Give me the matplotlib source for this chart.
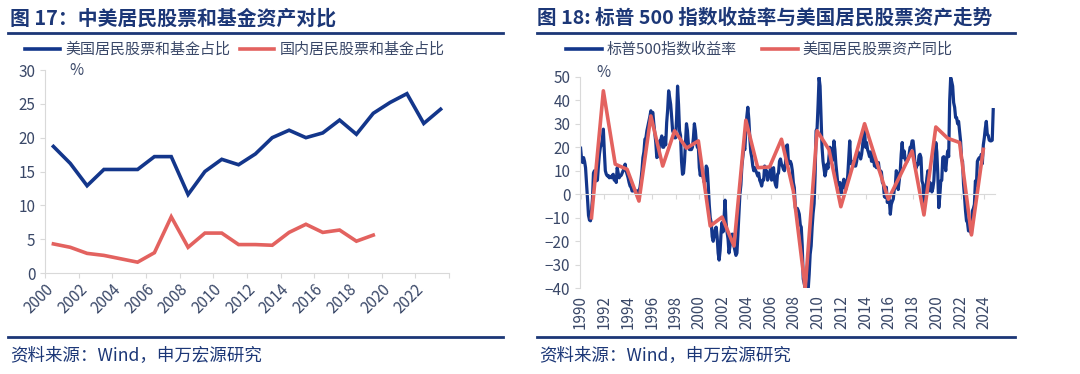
import matplotlib.pyplot as plt
from matplotlib.lines import Line2D
import numpy as np

plt.rcParams['font.family'] = ['Noto Sans CJK SC', 'DejaVu Sans']

# ---------------- data : figure 17 ----------------
years_l = list(range(2000, 2024))
us_share = [18.7, 16.2, 12.9, 15.3, 15.3, 15.3, 17.2, 17.2, 11.6, 15.0, 16.8, 16.0,
            17.6, 20.0, 21.1, 20.0, 20.7, 22.6, 20.5, 23.6, 25.2, 26.5, 22.1, 24.2]
cn_share = [4.3, 3.8, 2.9, 2.6, 2.1, 1.6, 3.0, 8.3, 3.8, 5.9, 5.9, 4.2,
            4.2, 4.1, 6.0, 7.2, 6.0, 6.35, 4.7, 5.6]

# ---------------- data : figure 18 ----------------
# S&P 500 monthly yoy return, Jan 1990 - Oct 2024
sp500_1990s = [
    19.6, 15, 13.5, 15.6, 14, 11.3, 5, -2, -9, -11, -11.3, -7,
    -2, 9, 10, 8, 5.7, 6, 12, 17, 20, 21, 23.4, 27.7,
    18, 10, 8.5, 7.8, 8, 7, 7.5, 7, 8, 8.5, 6, 7.5,
    5, 11.3, 9, 7, 7.8, 8, 9, 10, 11.3, 12.8, 10, 8.5,
    7, 5, 3.5, 3, 1.4, 1.4, 2, 1.5, 1, 1.4, 0.5, 1.5,
    2.8, 6, 10, 15.6, 18, 23.4, 24, 27, 29, 31, 33, 35.5,
    34, 34.8, 30, 26, 22, 15.6, 16, 18, 22.7, 23, 24.8, 20,
    20, 24, 21, 30.5, 36, 44, 41, 38.3, 33, 27, 26, 24,
    24, 32, 46, 38, 27, 25, 14, 8.5, 9, 14, 22, 30,
    27, 21, 19, 19, 19, 20, 24, 30, 27, 22, 20, 20,
]
sp500_2000s = [
    11.3, 8, 12, 9, 7, 5, 6, 12, 11, 4, -4.3, -10,
    -12, -18, -20, -18, -15, -14, -18, -25, -28, -24, -16, -12,
    -16, -10, -2.5, -12, -16, -19, -25, -22, -20, -17, -17, -22,
    -24, -26, -25, -17, -8, 0, 4, 12, 16, 20, 19, 27,
    33, 37, 32, 24, 18, 15.6, 12, 10, 11.3, 10, 9, 7.8,
    9, 6, 5, 3.5, 6, 6, 12, 10, 10, 6, 7.8, 8.5,
    11.3, 6, 10, 11.3, 6, 4, 3, 8.5, 9, 14, 15, 12.8,
    12, 10.6, 10, 13, 20.6, 21, 14, 13, 14, 12.8, 10, 5,
    2.8, -5.7, -7, -6, -7, -8.5, -13, -14, -22, -36, -38, -40,
    -40, -40.5, -40.5, -34, -25.5, -22, -14, -8, -4, 8, 27, 28,
]
sp500_2010s = [
    38, 49.6, 46, 33, 20, 14, 11, 7.8, 10, 12.8, 11, 16,
    20, 17, 14, 16, 22.7, 19, 12.8, 8.5, 4.3, 4, 5, 0,
    2, 4.3, 6.4, 3, 2, 4.3, 8, 15, 22.7, 13, 14, 13.4,
    14, 12, 12, 14, 18.4, 17, 17, 15, 17, 20.6, 25.5, 27,
    20, 22, 19, 17.7, 16, 18, 14, 17, 15, 12, 14, 11.3,
    12, 13.5, 10, 10, 9.5, 5, 4.3, -1, -1.4, 3, -3.5, -1,
    -2.5, -8.5, -4.3, -3, -2, 2, 3, 10, 9, 2, 5.7, 9.5,
    17, 22, 15.6, 18.4, 15, 14, 14, 15, 17, 20, 20, 22.7,
    22.7, 18.4, 12, 11, 12.8, 12.5, 16.3, 17, 15.6, 5.7, 4.2, -4,
    -4, 2.8, 7, 10, 1.4, 5, 4.3, 1, 2.5, 5.7, 14, 22,
]
sp500_2020s = [
    18, 8.5, -5.7, -1, 5.7, 6, 15.6, 16, 14, 10, 15, 18.4,
    16, 39.7, 49.6, 48, 46, 39, 37, 32.6, 32.6, 30, 31, 27,
    22.7, 15, 14, 4.3, -1, -7, -11.3, -12, -15.6, -15.6, -14, -17,
    -7, -6, -4.3, 5.7, 4, 14, 15, 15.6, 15, 17, 13, 21,
    24, 28, 31, 25.5, 25, 23, 22.7, 22.7, 23, 36,
]
# US household equity assets, yoy, annual (year end)
years_r = list(range(1990, 2024))
hh_equity = [-10, 44, 12.8, 10.6, -2.9, 33.3, 12, 27, 19.6, 22.7,
             -13.5, -9.7, -22, 31.5, 11.3, 11.6, 23.4, 1.4, -40, 27,
             19, -5.3, 12, 30, 14, -2.1, 8, 18.4, -8.8, 28.6,
             23.8, 22, -17.3, 19.1]

BLUE = '#13368B'
RED = '#E3625F'
NAVY = '#1C3777'
TXT = '#3A4868'
GRID = '#D9D9D9'

fig = plt.figure(figsize=(10.8, 3.74), dpi=100)

# titles, rules and footers
fig.text(10 / 1080, 1 - 18 / 374, '图 17：中美居民股票和基金资产对比', fontsize=14.3,
         fontweight='bold', color=NAVY, va='center', ha='left')
fig.text(537 / 1080, 1 - 18 / 374, '图 18: 标普 500 指数收益率与美国居民股票资产走势', fontsize=14.1,
         fontweight='bold', color=NAVY, va='center', ha='left')
for x0, x1 in [(8, 503), (537, 1015)]:
    for y in [32.5, 336.5]:
        fig.add_artist(Line2D([x0 / 1080, x1 / 1080], [1 - y / 374, 1 - y / 374],
                              color=NAVY, lw=2))
    fig.text(x0 / 1080 + 2 / 1080, 1 - 356 / 374, '资料来源：Wind，申万宏源研究', fontsize=12.6,
             color=NAVY, va='center', ha='left')

# ---------------- left chart ----------------
ax1 = fig.add_axes([45 / 1080, 1 - 273 / 374, 404 / 1080, 203 / 374])
x_l = np.array(years_l) + 0.5
ax1.plot(x_l, us_share, color=BLUE, lw=2.6, solid_joinstyle='miter')
ax1.plot(x_l[:len(cn_share)], cn_share, color=RED, lw=2.6, solid_joinstyle='miter')
ax1.set_xlim(2000, 2024)
ax1.set_ylim(0, 30)
ax1.set_yticks(range(0, 31, 5))
ticks_l = list(range(2000, 2025, 2))
ax1.set_xticks(ticks_l)
ax1.set_xticklabels([str(t) if t < 2024 else '' for t in ticks_l], rotation=45,
                    ha='right', rotation_mode='anchor')
for s in ['top', 'right']:
    ax1.spines[s].set_visible(False)
for s in ['left', 'bottom']:
    ax1.spines[s].set_color(GRID)
ax1.tick_params(axis='both', colors=GRID, labelcolor=TXT, labelsize=11, length=3.5)
ax1.tick_params(axis='x', pad=2)
ax1.text(0.06, 1.0, '%', transform=ax1.transAxes, fontsize=11, color=TXT, va='center')
ax1.legend(handles=[Line2D([], [], color=BLUE, lw=2.6), Line2D([], [], color=RED, lw=2.6)],
           labels=['美国居民股票和基金占比', '国内居民股票和基金占比'],
           loc='center left', bbox_to_anchor=(25 / 1080, 1 - 50 / 374),
           bbox_transform=fig.transFigure, ncol=2, frameon=False, fontsize=10.8,
           handlelength=2.3, handletextpad=0.4, columnspacing=0.6, labelcolor=TXT,
           borderpad=0, borderaxespad=0)

# ---------------- right chart ----------------
ax2 = fig.add_axes([580 / 1080, 1 - 288.3 / 374, 415 / 1080, 211.6 / 374])
sp500 = sp500_1990s + sp500_2000s + sp500_2010s + sp500_2020s
x_sp = 1990 + np.arange(len(sp500)) / 12
x_hh = np.array(years_r) + 11 / 12
ax2.plot(x_sp, sp500, color=BLUE, lw=2.3)
ax2.plot(x_hh, hh_equity, color=RED, lw=2.6)
ax2.set_xlim(1989.95, 2024.9)
ax2.set_ylim(-40, 50)
ax2.set_yticks(range(-40, 51, 10))
ticks_r = list(range(1990, 2025, 2))
ax2.set_xticks(ticks_r)
ax2.set_xticklabels([])
for s in ['top', 'right']:
    ax2.spines[s].set_visible(False)
ax2.spines['left'].set_color(GRID)
ax2.spines['bottom'].set_color(GRID)
ax2.spines['bottom'].set_position(('data', 0))
ax2.tick_params(axis='both', colors=GRID, labelcolor=TXT, labelsize=11, length=3.5)
sec = ax2.secondary_xaxis('bottom')
sec.set_xticks(ticks_r)
sec.set_xticklabels([str(t) for t in ticks_r], rotation=90)
sec.spines['bottom'].set_visible(False)
sec.tick_params(length=0, labelsize=11, labelcolor=TXT, pad=5)
ax2.text(0.04, 1.02, '%', transform=ax2.transAxes, fontsize=11, color=TXT, va='center')
ax2.legend(handles=[Line2D([], [], color=BLUE, lw=2.6), Line2D([], [], color=RED, lw=2.6)],
           labels=['标普500指数收益率', '美国居民股票资产同比'],
           loc='center left', bbox_to_anchor=(566 / 1080, 1 - 50 / 374),
           bbox_transform=fig.transFigure, ncol=2, frameon=False, fontsize=10.8,
           handlelength=2.4, handletextpad=0.3, columnspacing=1.7, labelcolor=TXT,
           borderpad=0, borderaxespad=0)

fig.savefig('out.png', dpi=100)
